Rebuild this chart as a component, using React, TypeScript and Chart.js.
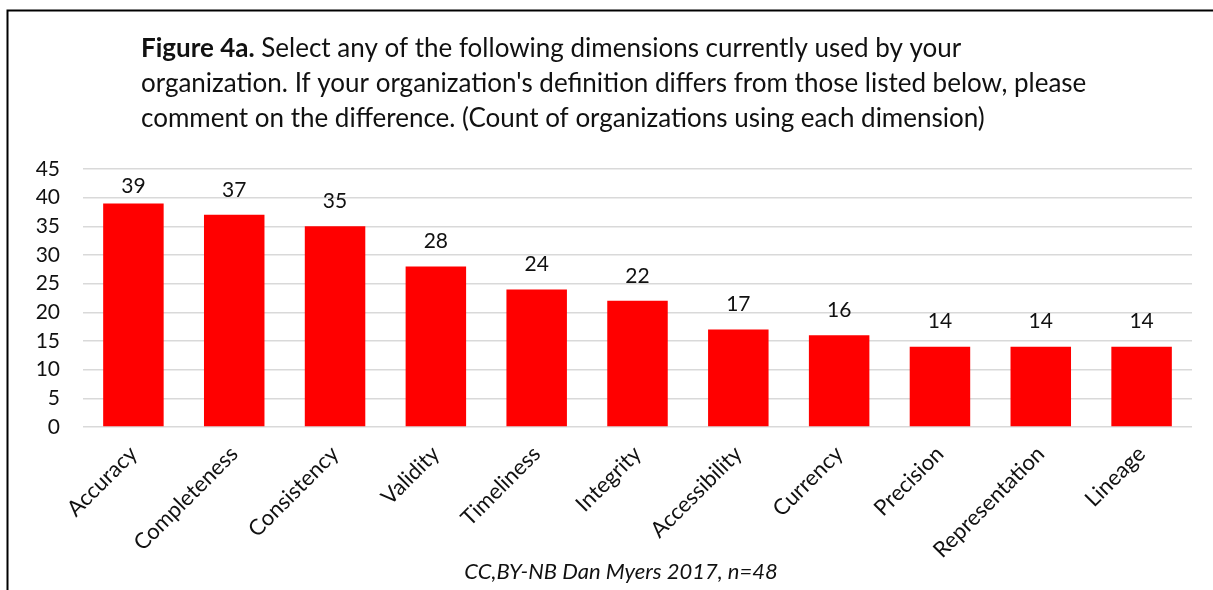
import React, { useEffect, useRef } from "react";
import { Chart, registerables } from "chart.js";

Chart.register(...registerables);

const categories = [
  "Accuracy",
  "Completeness",
  "Consistency",
  "Validity",
  "Timeliness",
  "Integrity",
  "Accessibility",
  "Currency",
  "Precision",
  "Representation",
  "Lineage",
];
const counts = [39, 37, 35, 28, 24, 22, 17, 16, 14, 14, 14];
const yTicks = [0, 5, 10, 15, 20, 25, 30, 35, 40, 45];
const titleBold = "Figure 4a.";
const titleLines = [
  " Select any of the following dimensions currently used by your",
  "organization. If your organization's definition differs from those listed below, please",
  "comment on the difference. (Count of organizations using each dimension)",
];
const footerText = "CC,BY-NB Dan Myers 2017, n=48";

const FONT = "Lato, 'Open Sans', sans-serif";
const TEXT = "#111111";

const decorPlugin = {
  id: "decor",
  beforeDraw(chart: any) {
    const ctx = chart.ctx;
    ctx.save();
    ctx.fillStyle = "#ffffff";
    ctx.fillRect(0, 0, chart.width, chart.height);
    ctx.strokeStyle = "#000000";
    ctx.lineWidth = 2;
    ctx.beginPath();
    ctx.moveTo(7.5, chart.height);
    ctx.lineTo(7.5, 10.5);
    ctx.lineTo(chart.width, 10.5);
    ctx.stroke();
    ctx.restore();
  },
  afterDatasetsDraw(chart: any) {
    const ctx = chart.ctx;
    const meta = chart.getDatasetMeta(0);
    const top = chart.chartArea.top;
    ctx.save();
    ctx.font = `21px ${FONT}`;
    ctx.fillStyle = TEXT;
    ctx.textAlign = "center";
    ctx.textBaseline = "middle";
    meta.data.forEach((bar: any, i: number) => {
      const y = Math.max(bar.y - 25, top + 17);
      ctx.fillText(String(counts[i]), bar.x, y);
    });
    ctx.restore();
  },
  afterDraw(chart: any) {
    const ctx = chart.ctx;
    ctx.save();
    ctx.fillStyle = TEXT;
    ctx.textBaseline = "alphabetic";
    ctx.textAlign = "left";
    const x0 = 141;
    ctx.font = `bold 26px ${FONT}`;
    ctx.fillText(titleBold, x0, 57);
    const w = ctx.measureText(titleBold).width;
    ctx.font = `26px ${FONT}`;
    ctx.fillText(titleLines[0], x0 + w, 57);
    ctx.fillText(titleLines[1], x0, 92);
    ctx.fillText(titleLines[2], x0, 127);
    ctx.font = `italic 22px ${FONT}`;
    ctx.textAlign = "center";
    ctx.fillText(footerText, 621, 579);
    ctx.restore();
  },
};

export default function App() {
  const ref = useRef<HTMLCanvasElement | null>(null);
  useEffect(() => {
    document.body.style.margin = "0";
    const canvas = ref.current!;
    const chart = new Chart(canvas, {
      type: "bar",
      data: {
        labels: categories,
        datasets: [
          {
            data: counts,
            backgroundColor: "#ff0000",
            borderWidth: 0,
            categoryPercentage: 1,
            barPercentage: 0.6,
          },
        ],
      },
      options: {
        animation: false,
        responsive: false,
        devicePixelRatio: 1,
        layout: { padding: { top: 169, right: 21, left: 0, bottom: 0 } },
        plugins: {
          legend: { display: false },
          tooltip: { enabled: false },
          title: { display: false },
        },
        scales: {
          x: {
            grid: { display: false },
            border: { display: false },
            ticks: {
              color: TEXT,
              font: { family: FONT, size: 22 },
              minRotation: 45,
              maxRotation: 45,
              autoSkip: false,
              padding: 6,
            },
            afterFit(scale: any) {
              scale.height = 163;
            },
          },
          y: {
            min: 0,
            max: 45,
            grid: { color: "#d9d9d9", lineWidth: 1.5, drawTicks: false },
            border: { display: false },
            afterBuildTicks(scale: any) {
              scale.ticks = yTicks.map((v) => ({ value: v }));
            },
            ticks: {
              color: TEXT,
              font: { family: FONT, size: 21 },
              padding: 23,
            },
            afterFit(scale: any) {
              scale.width = 83;
            },
          },
        },
      },
      plugins: [decorPlugin],
    });
    return () => chart.destroy();
  }, []);
  return (
    <div style={{ position: "absolute", left: 0, top: 0, width: 1213, height: 590 }}>
      <canvas ref={ref} width={1213} height={590} style={{ width: 1213, height: 590, display: "block" }} />
    </div>
  );
}
